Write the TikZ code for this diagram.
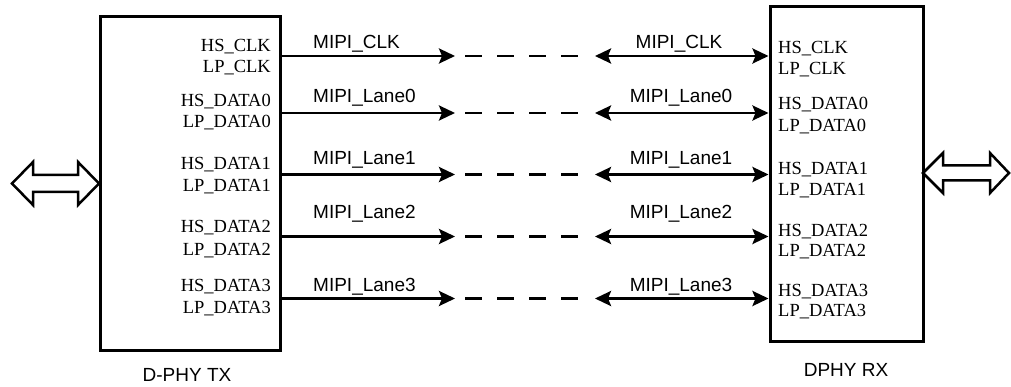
\documentclass[tikz,border=0pt]{standalone}
\usepackage{fontspec}
\setmainfont{Liberation Serif}
\newfontfamily\arialf{Liberation Sans}
\usetikzlibrary{arrows.meta}
\begin{document}
\begin{tikzpicture}[x=1pt,y=-1pt,
  blk/.style={draw,line width=3pt,inner sep=0pt},
  sig/.style={font=\fontsize{18.5}{18.5}\selectfont,inner sep=0pt},
  lane/.style={font=\arialf\fontsize{19}{19}\selectfont,inner sep=0pt},
  wire/.style={line width=2.8pt},
  tipA/.style={-{Stealth[length=16pt,width=15pt,inset=3pt]}},
  tipB/.style={{Stealth[length=16pt,width=15pt,inset=3pt]}-{Stealth[length=16pt,width=15pt,inset=3pt]}},
  dashwire/.style={wire,dash pattern=on 17pt off 15pt},
  hollow/.style={draw,line width=2.5pt,line join=miter}
]
\useasboundingbox (0,0) rectangle (1011,387);

% blocks
\node[blk,minimum width=180pt,minimum height=333pt] (tx) at (190,183.5) {};
\node[blk,minimum width=153pt,minimum height=334pt] (rx) at (846.5,174) {};

% captions
\node[lane,anchor=base] (txcap) at (187,381) {D-PHY TX};
\node[lane,anchor=base] (rxcap) at (846,376) {DPHY RX};

% TX pin labels
\node[sig,anchor=base east] (t1h) at (271,52) {HS\_CLK};
\node[sig,anchor=base east] (t1l) at (271,72.5) {LP\_CLK};
\node[sig,anchor=base east] (t2h) at (271,106.5) {HS\_DATA0};
\node[sig,anchor=base east] (t2l) at (271,128) {LP\_DATA0};
\node[sig,anchor=base east] (t3h) at (271,170) {HS\_DATA1};
\node[sig,anchor=base east] (t3l) at (271,192) {LP\_DATA1};
\node[sig,anchor=base east] (t4h) at (271,232.7) {HS\_DATA2};
\node[sig,anchor=base east] (t4l) at (271,255) {LP\_DATA2};
\node[sig,anchor=base east] (t5h) at (271,291.7) {HS\_DATA3};
\node[sig,anchor=base east] (t5l) at (271,313) {LP\_DATA3};

% RX pin labels
\node[sig,anchor=base west] (r1h) at (778,54) {HS\_CLK};
\node[sig,anchor=base west] (r1l) at (778,75) {LP\_CLK};
\node[sig,anchor=base west] (r2h) at (778,110) {HS\_DATA0};
\node[sig,anchor=base west] (r2l) at (778,131.7) {LP\_DATA0};
\node[sig,anchor=base west] (r3h) at (778,175) {HS\_DATA1};
\node[sig,anchor=base west] (r3l) at (778,195.7) {LP\_DATA1};
\node[sig,anchor=base west] (r4h) at (778,236.7) {HS\_DATA2};
\node[sig,anchor=base west] (r4l) at (778,257) {LP\_DATA2};
\node[sig,anchor=base west] (r5h) at (778,296) {HS\_DATA3};
\node[sig,anchor=base west] (r5l) at (778,316.7) {LP\_DATA3};

% lane labels
\node[lane,anchor=base west] (ln1a) at (313,48.3) {MIPI\_CLK};
\node[lane,anchor=base west] (ln2a) at (313,103) {MIPI\_Lane0};
\node[lane,anchor=base west] (ln3a) at (313,165) {MIPI\_Lane1};
\node[lane,anchor=base west] (ln4a) at (313,219) {MIPI\_Lane2};
\node[lane,anchor=base west] (ln5a) at (313,291) {MIPI\_Lane3};
\node[lane,anchor=base] (ln1b) at (679,48.3) {MIPI\_CLK};
\node[lane,anchor=base] (ln2b) at (681,103) {MIPI\_Lane0};
\node[lane,anchor=base] (ln3b) at (681,165) {MIPI\_Lane1};
\node[lane,anchor=base] (ln4b) at (681,219) {MIPI\_Lane2};
\node[lane,anchor=base] (ln5b) at (681,291) {MIPI\_Lane3};

% lanes
\foreach \n/\y in {1/56,2/113,3/174.5,4/236.5,5/298.5}{
  \coordinate (ta\n) at (455,\y);
  \coordinate (da\n) at (465,\y);
  \coordinate (db\n) at (580,\y);
  \coordinate (ra\n) at (595,\y);
  \draw[wire,tipA] (tx.east |- ta\n) -- (ta\n);
  \draw[dashwire] (da\n) -- (db\n);
  \draw[wire,tipB] (ra\n) -- (rx.west |- ra\n);
}

% hollow double arrows
\draw[hollow] (12,183.5) -- (33,162) -- (33,175) -- (78,175) -- (78,162) -- (99,183.5)
  -- (78,205) -- (78,192) -- (33,192) -- (33,205) -- cycle;
\draw[hollow] (923,173) -- (943,153) -- (943,165.5) -- (990,165.5) -- (990,153) -- (1009,173)
  -- (990,193) -- (990,180.5) -- (943,180.5) -- (943,193) -- cycle;
\end{tikzpicture}
\end{document}
